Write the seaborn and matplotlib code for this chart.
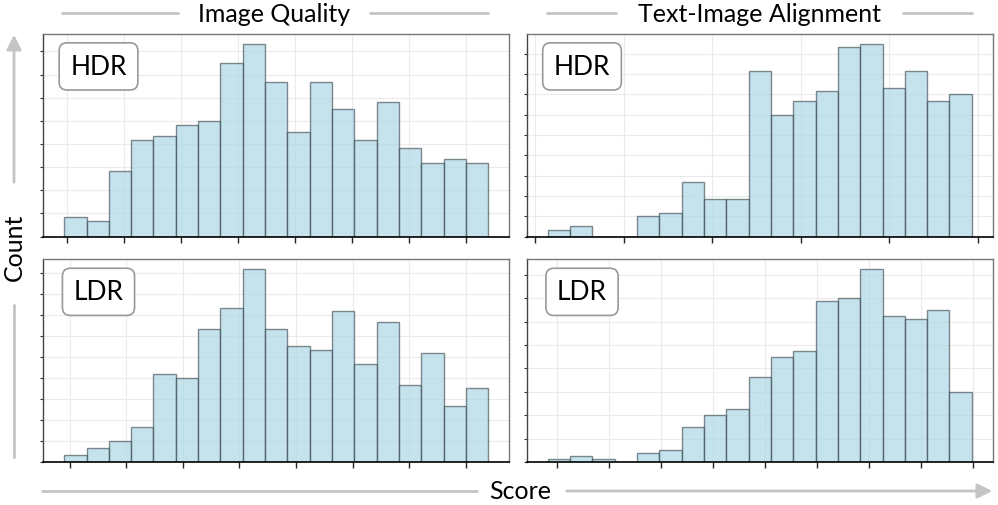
import numpy as np
import pandas as pd
import matplotlib
matplotlib.use("Agg")
import matplotlib.pyplot as plt
from matplotlib.lines import Line2D
from matplotlib.patches import FancyArrowPatch
from matplotlib.ticker import MultipleLocator
import seaborn as sns

# --- data (counts per bin, 19 bins each) ---
hdr_quality = [5, 4, 17, 25, 26, 29, 30, 45, 50, 40, 27, 40, 33, 25, 35, 23, 19, 20, 19]
hdr_align = [2, 3, 0, 0, 6, 7, 16, 11, 11, 49, 36, 40, 43, 56, 57, 44, 49, 40, 42]
ldr_quality = [2, 4, 6, 10, 25, 24, 38, 44, 55, 38, 33, 32, 43, 28, 40, 22, 31, 16, 21]
ldr_align = [1, 2, 1, 0, 3, 4, 12, 16, 18, 29, 36, 38, 55, 56, 66, 50, 49, 52, 24]

# score range covered by the bins of each panel
hdr_quality_range = (0.959, 8.386)
hdr_align_range = (1.14, 5.93)
ldr_quality_range = (0.90, 8.40)
ldr_align_range = (0.813, 8.974)

col_titles = ["Image Quality", "Text-Image Alignment"]
row_labels = ["HDR", "LDR"]

sns.set_style("whitegrid")
plt.rcParams["font.family"] = ["Lato", "DejaVu Sans"]
plt.rcParams["text.color"] = "black"

W, H = 998, 506
fig, axes = plt.subplots(2, 2, figsize=(W / 100, H / 100), dpi=100)
fig.subplots_adjust(left=43 / W, right=993 / W, top=1 - 35 / H, bottom=1 - 463 / H,
                    wspace=0.0365, hspace=0.113)

panels = [
    (axes[0, 0], hdr_quality, hdr_quality_range, 6, row_labels[0]),
    (axes[0, 1], hdr_align, hdr_align_range, 6, row_labels[0]),
    (axes[1, 0], ldr_quality, ldr_quality_range, 6, row_labels[1]),
    (axes[1, 1], ldr_align, ldr_align_range, 8, row_labels[1]),
]

for ax, counts, (lo, hi), ystep, lab in panels:
    edges = np.linspace(lo, hi, len(counts) + 1)
    df = pd.DataFrame({"score": (edges[:-1] + edges[1:]) / 2, "count": counts})
    sns.histplot(data=df, x="score", weights="count", bins=list(edges), ax=ax,
                 color="lightblue", alpha=0.7,
                 edgecolor=(0.2, 0.25, 0.27, 0.6), linewidth=1.0)
    ax.xaxis.set_major_locator(MultipleLocator(1))
    ax.yaxis.set_major_locator(MultipleLocator(ystep))
    ax.set_xticklabels([])
    ax.set_yticklabels([])
    ax.set_xlabel("")
    ax.set_ylabel("")
    ax.grid(True, color="#ebebeb", lw=0.8)
    ax.tick_params(axis="x", bottom=True, length=4, width=1, color="#222222")
    ax.tick_params(axis="y", left=True, length=2.5, width=0.8, color="#333333")
    for side in ["top", "right"]:
        ax.spines[side].set_color("#777777")
        ax.spines[side].set_linewidth(1.0)
    ax.spines["left"].set_color("#444444")
    ax.spines["left"].set_linewidth(1.0)
    ax.spines["bottom"].set_color("black")
    ax.spines["bottom"].set_linewidth(1.2)
    ax.text(0.119, 0.84, lab, transform=ax.transAxes, fontsize=19, color="black",
            ha="center", va="center",
            bbox=dict(boxstyle="round,pad=0.42,rounding_size=0.3", fc="white",
                      ec="#999999", lw=1.2))


def fp(x, y):
    return (x / W, 1 - y / H)


line_kw = dict(color="#c4c4c4", lw=2, transform=fig.transFigure)

# column titles with side rules
fig.text(*fp(274, 14), col_titles[0], fontsize=18, ha="center", va="center")
fig.add_artist(Line2D(*zip(fp(62, 14), fp(178, 14)), **line_kw))
fig.add_artist(Line2D(*zip(fp(370, 14), fp(488, 14)), **line_kw))
fig.text(*fp(759, 14), col_titles[1], fontsize=18, ha="center", va="center")
fig.add_artist(Line2D(*zip(fp(547, 14), fp(616, 14)), **line_kw))
fig.add_artist(Line2D(*zip(fp(903, 14), fp(972, 14)), **line_kw))

# y label with arrow
fig.text(*fp(14, 247), "Count", fontsize=18, ha="center", va="center", rotation=90)
fig.add_artist(FancyArrowPatch(fp(14, 186), fp(14, 33), arrowstyle="-|>",
                               mutation_scale=22, color="#c4c4c4", lw=2,
                               transform=fig.transFigure))
fig.add_artist(Line2D(*zip(fp(14, 306), fp(14, 458)), **line_kw))

# x label with arrow
fig.text(*fp(520, 492), "Score", fontsize=18, ha="center", va="center")
fig.add_artist(Line2D(*zip(fp(42, 492), fp(477, 492)), **line_kw))
fig.add_artist(FancyArrowPatch(fp(564, 492), fp(995, 492), arrowstyle="-|>",
                               mutation_scale=22, color="#c4c4c4", lw=2,
                               transform=fig.transFigure))

fig.savefig("out.png", dpi=100)
